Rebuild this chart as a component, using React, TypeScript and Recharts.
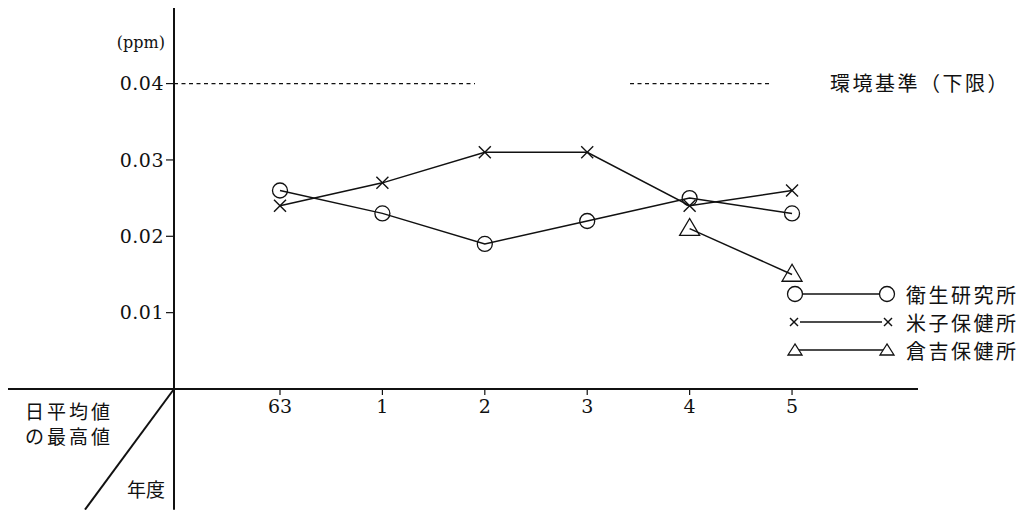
import React from "react";
import { LineChart, Line, XAxis, YAxis, ReferenceLine, Legend } from "recharts";

// 年度 (昭和63, 平成1..5)
const years = ["63", "1", "2", "3", "4", "5"];
const eiken = [0.026, 0.023, 0.019, 0.022, 0.025, 0.023];
const yonago = [0.024, 0.027, 0.031, 0.031, 0.024, 0.026];
const kurayoshi = [null, null, null, null, 0.021, 0.015];
const seriesNames = ["衛生研究所", "米子保健所", "倉吉保健所"];
const yTicks = [0.01, 0.02, 0.03, 0.04];
const standard = 0.04;
const standardLabel = "環境基準（下限）";

// axis ranges in data units (year index / ppm)
const xDomain = [-1.035, 6.23];
const yDomain = [0, 0.0499];
// the dashed standard line is broken where the curves run
const standardSegments = [
  [-1.035, 1.904],
  [3.418, 4.805],
];
const axisLeftEnd = -2.656;
const axisBottomEnd = -0.0158;
const diagonalEnd = -1.904;

const data = years.map((y, i) => ({
  idx: i,
  year: y,
  eiken: eiken[i],
  yonago: yonago[i],
  kurayoshi: kurayoshi[i],
}));

const INK = "#111";
const JP = '"Noto Sans CJK JP", sans-serif';
const NUM = '"DejaVu Serif", serif';

function Circle({ cx, cy, r = 7.5 }: any) {
  return <circle cx={cx} cy={cy} r={r} fill="none" stroke={INK} strokeWidth={1.3} />;
}

function Cross({ cx, cy, s = 6 }: any) {
  return (
    <g stroke={INK} strokeWidth={1.4}>
      <line x1={cx - s} y1={cy - s} x2={cx + s} y2={cy + s} />
      <line x1={cx - s} y1={cy + s} x2={cx + s} y2={cy - s} />
    </g>
  );
}

function Triangle({ cx, cy, w = 20, h = 17 }: any) {
  const pts = `${cx},${cy - h * 0.6} ${cx - w / 2},${cy + h * 0.4} ${cx + w / 2},${cy + h * 0.4}`;
  return <polygon points={pts} fill="none" stroke={INK} strokeWidth={1.3} />;
}

const makeDot = (kind: string) => (p: any) => {
  const key = `${kind}-${p.index}`;
  if (p.cx == null || p.cy == null || p.value == null) return <g key={key} />;
  if (kind === "circle") return <Circle key={key} cx={p.cx} cy={p.cy} />;
  if (kind === "cross") return <Cross key={key} cx={p.cx} cy={p.cy} />;
  return <Triangle key={key} cx={p.cx} cy={p.cy} />;
};

function LegendBox() {
  const kinds = ["circle", "cross", "triangle"];
  return (
    <div>
      {seriesNames.map((name, i) => (
        <div key={name} style={{ display: "flex", alignItems: "center", height: 28 }}>
          <svg width={112} height={28}>
            <line x1={10} y1={14} x2={102} y2={14} stroke={INK} strokeWidth={1.3} />
            {kinds[i] === "circle" && (
              <>
                <circle cx={10} cy={14} r={7.5} fill="#fff" stroke={INK} strokeWidth={1.3} />
                <circle cx={102} cy={14} r={7.5} fill="#fff" stroke={INK} strokeWidth={1.3} />
              </>
            )}
            {kinds[i] === "cross" && (
              <>
                <rect x={3} y={9} width={12} height={10} fill="#fff" />
                <rect x={97} y={9} width={12} height={10} fill="#fff" />
                <Cross cx={9} cy={14} s={4} />
                <Cross cx={103} cy={14} s={4} />
              </>
            )}
            {kinds[i] === "triangle" && (
              <>
                <polygon points="10,8 3,19 17,19" fill="#fff" stroke={INK} strokeWidth={1.3} />
                <polygon points="102,8 95,19 109,19" fill="#fff" stroke={INK} strokeWidth={1.3} />
              </>
            )}
          </svg>
          <span style={{ marginLeft: 9, fontFamily: JP, fontSize: 20, letterSpacing: 2.5, color: INK }}>
            {name}
          </span>
        </div>
      ))}
    </div>
  );
}

export default function App() {
  return (
    <div style={{ position: "absolute", left: 0, top: 0, width: 1029, height: 510, background: "#fff" }}>
      <LineChart
        width={1029}
        height={510}
        data={data}
        margin={{ top: 8, right: 111, left: 8, bottom: 91 }}
      >
        <XAxis
          type="number"
          dataKey="idx"
          domain={xDomain}
          allowDataOverflow
          ticks={[0, 1, 2, 3, 4, 5]}
          tickFormatter={(i: number) => years[i]}
          height={30}
          tickSize={6}
          tickMargin={5}
          axisLine={{ stroke: INK, strokeWidth: 2 }}
          tickLine={{ stroke: INK, strokeWidth: 1.2 }}
          tick={{ fill: INK, fontSize: 19, fontFamily: NUM }}
        />
        <YAxis
          type="number"
          domain={yDomain}
          allowDataOverflow
          ticks={yTicks}
          tickFormatter={(v: number) => v.toFixed(2)}
          width={166}
          tickSize={8}
          tickMargin={2}
          axisLine={{ stroke: INK, strokeWidth: 2 }}
          tickLine={{ stroke: INK, strokeWidth: 1.2 }}
          tick={{ fill: INK, fontSize: 19, fontFamily: NUM, letterSpacing: 0.5 }}
          label={{
            content: () => (
              <text x={165} y={42} textAnchor="end" dominantBaseline="central" fontFamily={NUM} fontSize={16} fill={INK}>
                (ppm)
              </text>
            ),
          }}
        />
        {/* axis extensions and the corner diagonal */}
        <ReferenceLine
          segment={[{ x: axisLeftEnd, y: 0 }, { x: xDomain[0], y: 0 }]}
          ifOverflow="visible"
          stroke={INK}
          strokeWidth={2}
        />
        <ReferenceLine
          segment={[{ x: xDomain[0], y: 0 }, { x: xDomain[0], y: axisBottomEnd }]}
          ifOverflow="visible"
          stroke={INK}
          strokeWidth={2}
        />
        <ReferenceLine
          segment={[{ x: xDomain[0], y: 0 }, { x: diagonalEnd, y: axisBottomEnd }]}
          ifOverflow="visible"
          stroke={INK}
          strokeWidth={2}
        />
        {standardSegments.map(([a, b], i) => (
          <ReferenceLine
            key={i}
            segment={[{ x: a, y: standard }, { x: b, y: standard }]}
            ifOverflow="visible"
            stroke={INK}
            strokeWidth={1.3}
            strokeDasharray="4 3.5"
            label={
              i === 1
                ? { value: standardLabel, position: "right", offset: 58, fill: INK, fontSize: 20, fontFamily: JP, letterSpacing: 2.5 }
                : undefined
            }
          />
        ))}
        <Line
          dataKey="eiken"
          name={seriesNames[0]}
          stroke={INK}
          strokeWidth={1.5}
          dot={makeDot("circle")}
          activeDot={false}
          isAnimationActive={false}
        />
        <Line
          dataKey="yonago"
          name={seriesNames[1]}
          stroke={INK}
          strokeWidth={1.5}
          dot={makeDot("cross")}
          activeDot={false}
          isAnimationActive={false}
        />
        <Line
          dataKey="kurayoshi"
          name={seriesNames[2]}
          stroke={INK}
          strokeWidth={1.5}
          dot={makeDot("triangle")}
          activeDot={false}
          connectNulls={false}
          isAnimationActive={false}
        />
        <Legend
          layout="vertical"
          align="center"
          verticalAlign="middle"
          content={() => <LegendBox />}
          wrapperStyle={{ position: "absolute", left: 785, top: 280, width: 240 }}
        />
      </LineChart>
      <svg
        width={1029}
        height={510}
        style={{ position: "absolute", left: 0, top: 0, pointerEvents: "none" }}
      >
        <text x={25} y={410} dominantBaseline="central" fontFamily={JP} fontSize={19} letterSpacing={3} fill={INK}>
          日平均値
        </text>
        <text x={25} y={435} dominantBaseline="central" fontFamily={JP} fontSize={19} letterSpacing={3} fill={INK}>
          の最高値
        </text>
        <text x={127} y={488} dominantBaseline="central" fontFamily={JP} fontSize={19} fill={INK}>
          年度
        </text>
      </svg>
    </div>
  );
}
